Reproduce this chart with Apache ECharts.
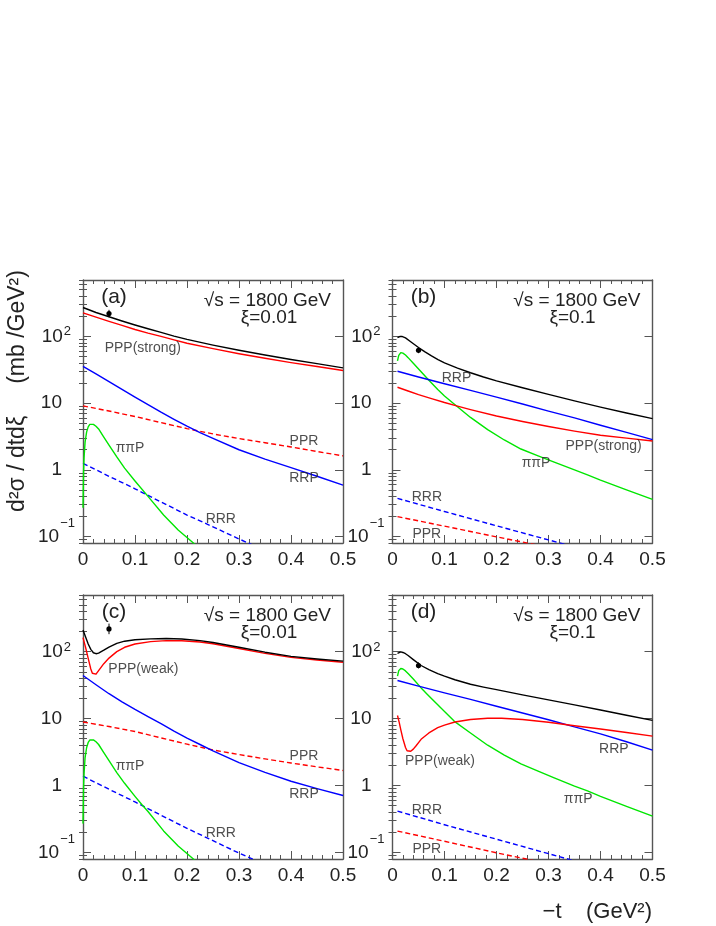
<!DOCTYPE html>
<html><head><meta charset="utf-8">
<script src="https://cdn.jsdelivr.net/npm/echarts@6/dist/echarts.min.js"></script>
<style>html,body{margin:0;padding:0;background:#fff}#c{width:716px;height:926px}</style>
</head><body><div id="c"></div>
<script>
// ---------- data: [-t, d2sigma/dtdxi] ----------
// Panel (a): sqrt(s)=1800 GeV, xi=0.01, PPP strong
const aTotal = [[0,271],[0.025,228],[0.05,197],[0.075,170],[0.1,148],[0.125,130],[0.15,115],[0.175,101],[0.2,90],[0.25,74],[0.3,62],[0.35,52.5],[0.4,45],[0.45,39],[0.5,33.7]];
const aPPP   = [[0,225],[0.025,194],[0.05,168],[0.075,146],[0.1,127],[0.125,112],[0.15,100],[0.175,88.5],[0.2,79],[0.25,65.5],[0.3,55],[0.35,47],[0.4,40.5],[0.45,35.3],[0.5,30.8]];
const aRRP   = [[0,35.6],[0.025,27.5],[0.05,21],[0.075,16.1],[0.1,12.3],[0.125,9.5],[0.15,7.3],[0.175,5.7],[0.2,4.5],[0.225,3.6],[0.25,2.95],[0.3,2.0],[0.35,1.45],[0.4,1.08],[0.45,0.8],[0.5,0.59]];
const aPPR   = [[0,9.1],[0.05,7.6],[0.1,6.3],[0.15,5.1],[0.2,4.15],[0.25,3.45],[0.3,2.94],[0.35,2.55],[0.4,2.2],[0.45,1.88],[0.5,1.62]];
const aRRR   = [[0,1.25],[0.05,0.8],[0.1,0.52],[0.15,0.33],[0.2,0.21],[0.25,0.14],[0.3,0.092],[0.35,0.062]];
const aPiP   = [[0,0.27],[0.001,0.9],[0.002,1.5],[0.004,2.6],[0.007,3.7],[0.01,4.4],[0.013,4.8],[0.016,4.9],[0.02,4.8],[0.025,4.5],[0.03,4.1],[0.04,3.1],[0.05,2.35],[0.065,1.56],[0.08,1.06],[0.1,0.68],[0.125,0.4],[0.155,0.21],[0.183,0.125],[0.214,0.078],[0.23,0.062]];
const aData  = [[0.05,220,194,250]];
const aLabels = [[0.115,67.8,'PPP(strong)'],[0.425,2.65,'PPR'],[0.425,0.76,'RRP'],[0.0904,2.08,'ππP'],[0.265,0.184,'RRR']];

// Panel (b): sqrt(s)=1800 GeV, xi=0.1, PPP strong
const bTotal = [[0.0096,96],[0.014,99.5],[0.018,100],[0.025,95],[0.035,83],[0.05,68],[0.0625,58.5],[0.075,51],[0.0875,45],[0.1,40],[0.125,33.5],[0.15,28.5],[0.175,24.6],[0.2,21.5],[0.25,17],[0.3,13.5],[0.35,10.8],[0.4,8.7],[0.45,7.1],[0.5,5.85]];
const bPPP   = [[0.0096,17.3],[0.03,15.2],[0.05,13.4],[0.075,11.7],[0.1,10.2],[0.125,9.0],[0.15,8.0],[0.2,6.4],[0.25,5.3],[0.3,4.45],[0.35,3.8],[0.4,3.3],[0.45,2.98],[0.5,2.71]];
const bRRP   = [[0.0096,30],[0.05,24.6],[0.1,19.5],[0.15,15.5],[0.2,12.3],[0.25,9.7],[0.3,7.6],[0.35,6.0],[0.4,4.65],[0.45,3.65],[0.5,2.84]];
const bPPR   = [[0.0096,0.199],[0.1,0.143],[0.2,0.099],[0.3,0.069],[0.35,0.058]];
const bRRR   = [[0.0096,0.373],[0.1,0.237],[0.2,0.145],[0.3,0.089],[0.35,0.07],[0.4,0.055]];
const bPiP   = [[0.0096,43],[0.012,52],[0.014,55.5],[0.016,57],[0.018,57.2],[0.02,56],[0.025,52.5],[0.03,48],[0.04,39.5],[0.055,29.5],[0.07,22],[0.087,16],[0.1,12.8],[0.122,9.2],[0.15,6.1],[0.183,4.0],[0.215,2.8],[0.247,2.05],[0.28,1.62],[0.311,1.3],[0.35,1.0],[0.375,0.84],[0.4,0.7],[0.45,0.5],[0.5,0.36]];
const bData  = [[0.05,62,56,69]];
const bLabels = [[0.123,23.8,'RRP'],[0.406,2.27,'PPP(strong)'],[0.276,1.25,'ππP'],[0.066,0.39,'RRR'],[0.066,0.107,'PPR']];

// Panel (c): sqrt(s)=1800 GeV, xi=0.01, PPP weak
const cTotal = [[0,210],[0.005,165],[0.01,130],[0.015,108],[0.02,96],[0.025,93],[0.03,95],[0.04,105],[0.05,117],[0.065,133],[0.08,143],[0.1,150],[0.13,155],[0.16,157],[0.19,154],[0.225,146],[0.25,137],[0.3,116],[0.35,98],[0.4,85],[0.45,77.5],[0.5,72]];
const cPPP   = [[0,162],[0.005,115],[0.01,79],[0.015,55],[0.018,47.5],[0.021,44.5],[0.025,46],[0.03,52],[0.04,66],[0.05,80],[0.065,100],[0.08,116],[0.1,130],[0.13,141],[0.16,146],[0.19,145],[0.225,139],[0.25,131],[0.3,111],[0.35,94],[0.4,82],[0.45,75],[0.5,69.5]];
const cRRP   = [[0,44],[0.025,32],[0.05,23.5],[0.075,17.8],[0.1,13.7],[0.125,10.7],[0.15,8.4],[0.175,6.5],[0.2,5.1],[0.225,4.1],[0.25,3.3],[0.3,2.2],[0.35,1.57],[0.4,1.16],[0.45,0.9],[0.5,0.71]];
const cPPR   = [[0,8.9],[0.05,7.6],[0.1,6.4],[0.15,5.15],[0.2,4.15],[0.25,3.4],[0.3,2.9],[0.35,2.5],[0.4,2.17],[0.45,1.9],[0.5,1.68]];
const cRRR   = [[0,1.38],[0.05,0.88],[0.1,0.57],[0.15,0.36],[0.2,0.23],[0.25,0.15],[0.3,0.098],[0.35,0.066]];
const cPiP   = [[0,0.27],[0.001,0.9],[0.002,1.5],[0.004,2.6],[0.007,3.7],[0.01,4.4],[0.013,4.78],[0.016,4.88],[0.02,4.8],[0.025,4.5],[0.03,4.1],[0.04,3.1],[0.05,2.35],[0.065,1.56],[0.08,1.08],[0.1,0.69],[0.113,0.52],[0.125,0.41],[0.155,0.21],[0.183,0.125],[0.214,0.078],[0.23,0.062]];
const cData  = [[0.05,218,182,262]];
const cLabels = [[0.116,55,'PPP(weak)'],[0.425,2.75,'PPR'],[0.425,0.736,'RRP'],[0.0904,1.95,'ππP'],[0.265,0.195,'RRR']];

// Panel (d): sqrt(s)=1800 GeV, xi=0.1, PPP weak
const dTotal = [[0.0096,94],[0.013,97.5],[0.016,99],[0.02,97],[0.025,93],[0.03,87.5],[0.04,76],[0.055,62],[0.07,54],[0.087,47],[0.1,43],[0.12,38],[0.15,32.5],[0.175,29.5],[0.2,27],[0.25,22.6],[0.3,19],[0.35,16],[0.4,13.4],[0.45,11.2],[0.5,9.4]];
const dPPP   = [[0.0096,11.1],[0.013,8.7],[0.016,6.8],[0.02,5.0],[0.025,3.7],[0.028,3.3],[0.031,3.15],[0.035,3.25],[0.04,3.5],[0.045,3.9],[0.055,4.9],[0.07,6.1],[0.087,7.3],[0.1,8.0],[0.12,8.9],[0.15,9.7],[0.183,10.1],[0.21,10.1],[0.25,9.7],[0.3,8.8],[0.35,7.8],[0.4,7.0],[0.45,6.2],[0.5,5.46]];
const dRRP   = [[0.0096,37],[0.05,30.5],[0.1,24.2],[0.15,19.3],[0.2,15.3],[0.25,12.1],[0.3,9.6],[0.35,7.5],[0.4,5.9],[0.45,4.5],[0.5,3.37]];
const dPPR   = [[0.0096,0.209],[0.1,0.147],[0.2,0.099],[0.3,0.068],[0.35,0.056]];
const dRRR   = [[0.0096,0.415],[0.1,0.26],[0.2,0.158],[0.3,0.096],[0.35,0.075],[0.4,0.058]];
const dPiP   = [[0.0096,43],[0.012,52],[0.014,55],[0.016,56],[0.018,56.2],[0.02,55],[0.025,51.5],[0.03,47],[0.04,39],[0.055,28.7],[0.07,21.8],[0.087,16.1],[0.1,12.8],[0.119,9.1],[0.15,6.1],[0.183,4.0],[0.215,2.85],[0.247,2.1],[0.28,1.64],[0.311,1.3],[0.35,0.98],[0.375,0.83],[0.4,0.69],[0.45,0.49],[0.5,0.35]];
const dData  = [[0.05,62,56,69]];
const dLabels = [[0.4256,3.46,'RRP'],[0.0913,2.31,'PPP(weak)'],[0.357,0.62,'ππP'],[0.066,0.43,'RRR'],[0.066,0.111,'PPR']];

// axis ticks
const xTicks = [0, 0.1, 0.2, 0.3, 0.4, 0.5];
const yMajor = [0.1, 1, 10, 100];
const yMinor = [0.08,0.09,0.2,0.3,0.4,0.5,0.6,0.7,0.8,0.9,2,3,4,5,6,7,8,9,20,30,40,50,60,70,80,90,200,300,400,500,600,700];
const headerEnergy = '√s = 1800 GeV';

// ---------- layout / style ----------
const FONT = '"Liberation Sans", Arial, sans-serif';
const TXT = '#222';
const AX = '#555';
const PW = 260;
const panels = [
  {left:83,  top:280, h:263, tag:'(a)', xi:'ξ=0.01', xiDx:186, total:aTotal, ppp:aPPP, rrp:aRRP, ppr:aPPR, rrr:aRRR, pip:aPiP, pt:aData, labels:aLabels},
  {left:392.5, top:280, h:263, tag:'(b)', xi:'ξ=0.1', xiDx:180, total:bTotal, ppp:bPPP, rrp:bRRP, ppr:bPPR, rrr:bRRR, pip:bPiP, pt:bData, labels:bLabels},
  {left:83,  top:595, h:264, tag:'(c)', xi:'ξ=0.01', xiDx:186, total:cTotal, ppp:cPPP, rrp:cRRP, ppr:cPPR, rrr:cRRR, pip:cPiP, pt:cData, labels:cLabels},
  {left:392.5, top:595, h:264, tag:'(d)', xi:'ξ=0.1', xiDx:180, total:dTotal, ppp:dPPP, rrp:dRRP, ppr:dPPR, rrr:dRRR, pip:dPiP, pt:dData, labels:dLabels}
];

function yFmt(v){
  const l = Math.log10(v), e = Math.round(l);
  if (Math.abs(l - e) > 1e-6) return '';
  if (e === 2) return '{b|10}{s|2}';
  if (e === 1) return '{p|10}';
  if (e === 0) return '{p|1}';
  if (e === -1) return '{bm|10}{sm|−1}';
  return '';
}
const yRich = {
  b:  {fontFamily:FONT, fontSize:19, color:TXT, lineHeight:22, verticalAlign:'middle'},
  s:  {fontFamily:FONT, fontSize:13, color:TXT, lineHeight:9, verticalAlign:'top', padding:[0,4,0,1]},
  p:  {fontFamily:FONT, fontSize:19, color:TXT, lineHeight:22, verticalAlign:'middle', padding:[0,13,0,0]},
  bm: {fontFamily:FONT, fontSize:19, color:TXT, lineHeight:40, verticalAlign:'middle'},
  sm: {fontFamily:FONT, fontSize:13, color:TXT, lineHeight:9, verticalAlign:'top', padding:[0,0,0,1]}
};

const grid = [], xAxis = [], yAxis = [], series = [], graphic = [];
const axLine = {show:true, onZero:false, lineStyle:{color:AX, width:1.4}};
const tickStyle = {color:AX, width:1};

panels.forEach((p, i) => {
  grid.push({left:p.left, top:p.top, width:PW, height:p.h, containLabel:false, outerBoundsMode:'none'});
  const xb = {type:'value', gridIndex:i, min:0, max:0.5, interval:0.1,
    axisLine:axLine, splitLine:{show:false}, minorSplitLine:{show:false},
    axisTick:{show:true, inside:true, length:8, lineStyle:tickStyle},
    minorTick:{show:true, splitNumber:5, length:4, lineStyle:tickStyle}};
  xAxis.push(Object.assign({}, xb, {position:'bottom',
    axisLabel:{show:true, margin:7, fontFamily:FONT, fontSize:19, color:TXT, customValues:xTicks}}));
  xAxis.push(Object.assign({}, xb, {position:'top', axisLabel:{show:false}}));

  const yb = {type:'log', logBase:10, gridIndex:i, min:0.08, max:700, splitLine:{show:false}, minorTick:{show:false}, minorSplitLine:{show:false}};
  yAxis.push(Object.assign({}, yb, {position:'left', axisLine:axLine,
    axisTick:{show:true, inside:true, length:8, customValues:yMajor, lineStyle:tickStyle},
    axisLabel:{show:true, margin:8, customValues:yMajor, formatter:yFmt, rich:yRich}}));
  yAxis.push(Object.assign({}, yb, {position:'left', axisLine:{show:false},
    axisTick:{show:true, inside:true, length:4, customValues:yMinor, lineStyle:tickStyle}, axisLabel:{show:false}}));
  yAxis.push(Object.assign({}, yb, {position:'right', axisLine:axLine,
    axisTick:{show:true, inside:true, length:8, customValues:yMajor, lineStyle:tickStyle}, axisLabel:{show:false}}));
  yAxis.push(Object.assign({}, yb, {position:'right', axisLine:{show:false},
    axisTick:{show:true, inside:true, length:4, customValues:yMinor, lineStyle:tickStyle}, axisLabel:{show:false}}));

  const mk = (data, color, dashed) => ({type:'line', xAxisIndex:2*i, yAxisIndex:4*i, data,
    symbol:'none', showSymbol:false, smooth:false, clip:true, silent:true,
    lineStyle:{color, width:1.4, type: dashed ? [5,3] : 'solid', join:'round'}, z:3});
  series.push(mk(p.rrr, '#0000ff', true));
  series.push(mk(p.ppr, '#ff0000', true));
  series.push(mk(p.pip, '#00e600', false));
  series.push(mk(p.rrp, '#0000ff', false));
  series.push(mk(p.ppp, '#ff0000', false));
  series.push(mk(p.total, '#000000', false));

  series.push({type:'scatter', xAxisIndex:2*i, yAxisIndex:4*i, silent:true, z:5,
    symbolSize:1, itemStyle:{color:'rgba(0,0,0,0)'},
    data:p.labels.map(l => ({value:[l[0], l[1]], name:l[2]})),
    label:{show:true, position:'inside', formatter:'{b}', fontFamily:FONT, fontSize:14, color:TXT}});

  series.push({type:'custom', xAxisIndex:2*i, yAxisIndex:4*i, silent:true, z:6, data:p.pt,
    renderItem:(params, api) => {
      const x = api.value(0);
      const c = api.coord([x, api.value(1)]);
      const lo = api.coord([x, api.value(2)]);
      const hi = api.coord([x, api.value(3)]);
      return {type:'group', children:[
        {type:'line', shape:{x1:lo[0], y1:lo[1], x2:hi[0], y2:hi[1]}, style:{stroke:'#000', lineWidth:1}},
        {type:'circle', shape:{cx:c[0], cy:c[1], r:2.6}, style:{fill:'#000'}}
      ]};
    }});

  const T = (text, x, y, size, align) => ({type:'text', x, y, silent:true, z:10,
    style:{text, fontFamily:FONT, fontSize:size, fill:TXT, align, textAlign:align, verticalAlign:'middle', textVerticalAlign:'middle'}});
  graphic.push(T(p.tag, p.left + 31, p.top + 17, 21, 'center'));
  graphic.push(T(headerEnergy, p.left + 248, p.top + 20.5, 19, 'right'));
  graphic.push(T(p.xi, p.left + p.xiDx, p.top + 37.5, 19, 'center'));
});

graphic.push({type:'text', x:18, y:391, rotation:Math.PI/2, silent:true,
  style:{text:'d²σ / dtdξ     (mb /GeV²)', fontFamily:FONT, fontSize:23, fill:TXT,
    align:'center', textAlign:'center', verticalAlign:'middle', textVerticalAlign:'middle'}});
graphic.push({type:'text', x:652, y:912, silent:true,
  style:{text:'−t    (GeV²)', fontFamily:FONT, fontSize:22, fill:TXT,
    align:'right', textAlign:'right', verticalAlign:'middle', textVerticalAlign:'middle'}});

const chart = echarts.init(document.getElementById('c'), null, {renderer:'canvas'});
chart.setOption({animation:false, backgroundColor:'#fff', grid, xAxis, yAxis, series, graphic});
</script>
</body></html>
